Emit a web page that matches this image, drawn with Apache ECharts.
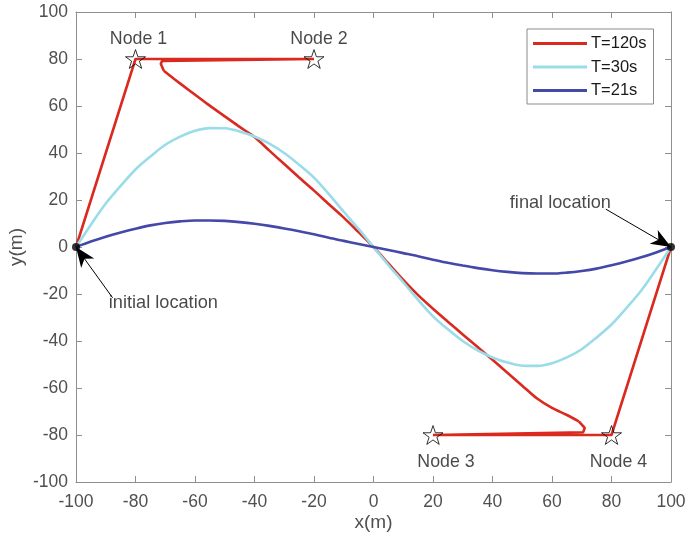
<!DOCTYPE html>
<html><head><meta charset="utf-8">
<script src="https://cdn.jsdelivr.net/npm/echarts@6.0.0/dist/echarts.min.js"></script>
<style>html,body{margin:0;padding:0;background:#fff}#c{width:688px;height:541px}</style>
</head><body><div id="c"></div>
<script>
// ---- data ----
const seriesNames = ['T=120s', 'T=30s', 'T=21s'];
const redX = [-100,-80,-20,-71,-71.5,-70.5,-67,-62,-56,-50,-45,-40,-35,-30,-25,-20,-15,-10,-5,0,5,10,15,20,25,30,35,40,45,50,55,60,65,69,71,70.5,20,80,100];
const redY = [0,80,80,79.2,78,75,71.5,66.7,61,55.6,51.1,46.8,41,35.3,29.6,24,18.2,12.5,6.3,0,-7,-14,-20.5,-26.3,-31.8,-37.2,-42.6,-48,-53.5,-59,-64.5,-68.5,-71.5,-74.2,-77,-78.8,-80,-80,0];
const cyanX = [-100,-95,-90,-85,-80,-75,-70,-65,-60,-55,-50,-45,-40,-35,-30,-25,-20,-15,-10,-5,0,5,10,15,20,25,30,35,40,45,50,55,60,65,70,75,80,85,90,95,100];
const cyanY = [0,9.5,18.5,26,33,38.5,43.5,47,49.5,50.6,50.5,49.2,47,44,40,35,29.5,22.5,15,7.7,0,-7.7,-15,-22.5,-29.5,-35,-40,-44,-47,-49.2,-50.5,-50.6,-49.5,-47,-43.5,-38.5,-33,-26,-18.5,-9.5,0];
const blueX = [-100,-95,-90,-85,-80,-75,-70,-65,-60,-55,-50,-45,-40,-35,-30,-25,-20,-15,-10,-5,0,5,10,15,20,25,30,35,40,45,50,55,60,65,70,75,80,85,90,95,100];
const blueY = [0,2.3,4.4,6.2,7.8,9.2,10.2,10.9,11.3,11.3,11.1,10.6,9.9,9,7.9,6.7,5.4,3.9,2.6,1.3,0,-1.3,-2.6,-3.9,-5.4,-6.7,-7.9,-9,-9.9,-10.6,-11.1,-11.3,-11.3,-10.9,-10.2,-9.2,-7.8,-6.2,-4.4,-2.3,0];
const nodeNames = ['Node 1','Node 2','Node 3','Node 4'];
const nodeX = [-80,-20,20,80];
const nodeY = [80,80,-80,-80];
const endX = [-100,100];
const endY = [0,0];
const noteTexts = ['initial location','final location'];
const noteX = [-89,79.8];
const noteY = [-24,18.9];
const arrowFromX = [-87.7,78.1];
const arrowFromY = [-21.6,16.1];
const xTicks = [-100,-80,-60,-40,-20,0,20,40,60,80,100];
const yTicks = [-100,-80,-60,-40,-20,0,20,40,60,80,100];

// ---- styles ----
const colors = ['#DA2A1F', '#9ADCE7', '#4448A8'];
const axisGray = '#8f8f8f';
const labelGray = '#505050';
const FONT = 'Liberation Sans';
const nodeOffsets = [[3,-20],[5,-20],[13,27],[7,27]];
const zip = (a, b) => a.map((v, i) => [v, b[i]]);
// red path: straight legs (nodes) + smooth middle sweep
const redCurveStart = 5, redCurveEnd = 33;

const starPath = 'path://M50,0 L61.8,35.1 L98.9,35.1 L69.1,56.7 L80.3,91.9 L50,70.1 L19.7,91.9 L30.9,56.7 L1.1,35.1 L38.2,35.1 Z';
// arrow head with its tip at the centre of a square 40x40 box (tip points "up")
const arrowPath = 'path://M-20,0 M20,0 M0,20 M0,-20 M0,0 L8,20 L0,14.5 L-8,20 Z';

const baseAxis = (pos, showLabel, ticks) => ({
  type: 'value', position: pos, min: ticks[0], max: ticks[ticks.length-1], interval: 20,
  axisLine: { show: true, onZero: false, lineStyle: { color: axisGray, width: 1 } },
  axisTick: { show: true, inside: true, length: 6, lineStyle: { color: axisGray } },
  axisLabel: { show: showLabel, color: labelGray, fontSize: 17.5, fontFamily: FONT, margin: (pos === 'bottom' ? 11 : 8) },
  splitLine: { show: false }
});

const chart = echarts.init(document.getElementById('c'), null, { renderer: 'canvas' });
const mkLine = (name, pts, color, smooth, z) => ({
  type: 'line', name: name, data: pts,
  showSymbol: false, symbol: 'none', z: z, smooth: smooth,
  lineStyle: { color: color, width: 2.6 }, itemStyle: { color: color }
});
const redPts = zip(redX, redY);
const lineSeries = [
  mkLine(seriesNames[0], redPts.slice(0, redCurveStart + 1), colors[0], false, 2),
  mkLine(seriesNames[0], redPts.slice(redCurveStart, redCurveEnd + 1), colors[0], 0.3, 2),
  mkLine(seriesNames[0], redPts.slice(redCurveEnd), colors[0], false, 2),
  mkLine(seriesNames[1], zip(cyanX, cyanY), colors[1], 0.3, 3),
  mkLine(seriesNames[2], zip(blueX, blueY), colors[2], 0.3, 4)
];

const xAxisBottom = Object.assign(baseAxis('bottom', true, xTicks), {
  name: 'x(m)', nameLocation: 'middle', nameGap: 31, nameMoveOverlap: false,
  nameTextStyle: { color: labelGray, fontSize: 19, fontFamily: FONT }
});
const yAxisLeft = Object.assign(baseAxis('left', true, yTicks), {
  name: 'y(m)', nameLocation: 'middle', nameGap: 50, nameMoveOverlap: false,
  nameTextStyle: { color: labelGray, fontSize: 19, fontFamily: FONT }
});

chart.setOption({
  animation: false,
  backgroundColor: '#fff',
  grid: { left: 76, right: 17, top: 12, bottom: 59, containLabel: false, outerBoundsMode: 'none' },
  xAxis: [xAxisBottom, baseAxis('top', false, xTicks)],
  yAxis: [yAxisLeft, baseAxis('right', false, yTicks)],
  legend: {
    data: seriesNames, orient: 'vertical', left: 527, top: 29,
    icon: 'rect', itemWidth: 54, itemHeight: 3, itemGap: 6.5,
    padding: [6, 7, 5, 6],
    borderColor: '#8a8a8a', borderWidth: 1, backgroundColor: '#fff',
    textStyle: { fontSize: 16.5, fontFamily: FONT, color: '#1a1a1a', padding: [0, 0, 0, -1] }
  },
  series: [
    ...lineSeries,
    {
      type: 'scatter', data: nodeNames.map((n, i) => ({
        name: n, value: [nodeX[i], nodeY[i]],
        label: { offset: nodeOffsets[i] }
      })),
      symbol: starPath, symbolSize: 20, symbolKeepAspect: true, z: 10,
      itemStyle: { color: 'rgba(0,0,0,0)', borderColor: '#000', borderWidth: 1 },
      label: { show: true, position: 'inside', formatter: '{b}', color: '#1a1a1a', fontSize: 17.8, fontFamily: FONT }
    },
    {
      type: 'scatter', data: zip(endX, endY), symbol: 'circle', symbolSize: 8, z: 11,
      itemStyle: { color: '#000' },
      markLine: {
        silent: true, symbol: ['none', arrowPath], symbolSize: 40,
        lineStyle: { color: '#000', width: 1, type: 'solid' },
        itemStyle: { color: '#000' },
        label: { show: false },
        data: arrowFromX.map((x, i) => [
          { coord: [x, arrowFromY[i]] },
          { coord: [endX[i], endY[i]] }
        ])
      }
    },
    {
      type: 'scatter', symbolSize: 0, z: 12,
      data: noteTexts.map((t, i) => ({
        name: t, value: [noteX[i], noteY[i]],
        label: { position: i === 0 ? 'right' : 'left' }
      })),
      label: { show: true, formatter: '{b}', distance: 0, color: '#1a1a1a', fontSize: 18.2, fontFamily: FONT }
    }
  ]
});
</script></body></html>
